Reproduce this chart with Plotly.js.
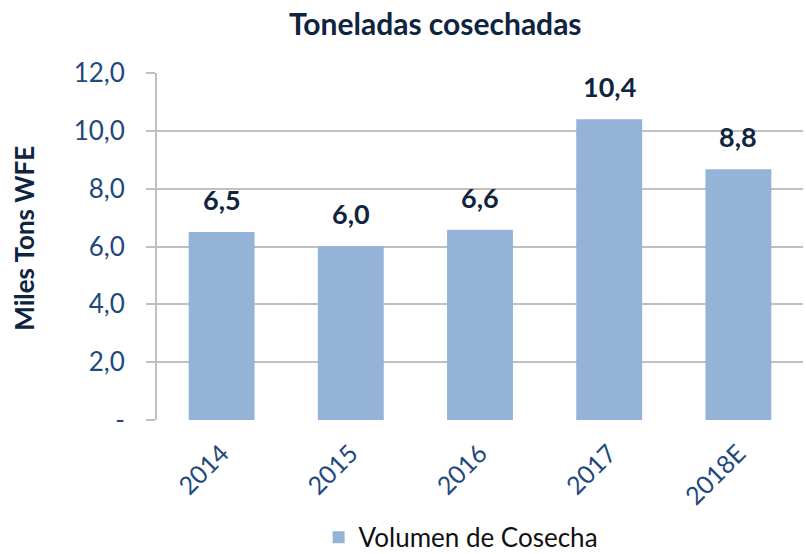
<!DOCTYPE html>
<html>
<head>
<meta charset="utf-8">
<script src="https://cdn.plot.ly/plotly-3.0.1.min.js"></script>
<style>html,body{margin:0;padding:0;background:#fff;}#chart{width:806px;height:554px;}</style>
</head>
<body>
<div id="chart"></div>
<script>
const years = ["2014", "2015", "2016", "2017", "2018E"];
const volumen = [6.5, 6.02, 6.58, 10.4, 8.67];
const labels = ["6,5", "6,0", "6,6", "10,4", "8,8"];
const yTickVals = [0, 2, 4, 6, 8, 10, 12];
const yTickText = ["-", "2,0", "4,0", "6,0", "8,0", "10,0", "12,0"];

const FONT = "Lato, 'Open Sans', sans-serif";
const NAVY = "#0F243E";
const AXBLUE = "#1F497D";

const trace = {
  type: "bar",
  x: years,
  y: volumen,
  name: "Volumen de Cosecha",
  marker: {color: "#95B3D7"},
  hoverinfo: "skip"
};

const annotations = years.map((c, i) => ({
  x: i, y: volumen[i], text: labels[i],
  xref: "x", yref: "y", showarrow: false,
  yanchor: "bottom", yshift: 14,
  font: {family: FONT, size: 27, color: NAVY, weight: "bold"}
}));
annotations.push({
  text: "<b>Miles Tons WFE</b>",
  xref: "paper", yref: "paper", x: -0.206, y: 0.525,
  xanchor: "center", yanchor: "middle", textangle: -90,
  showarrow: false,
  font: {family: FONT, size: 26, color: NAVY}
});

const layout = {
  width: 806, height: 554,
  margin: {l: 157, r: 3, t: 73, b: 134, autoexpand: false},
  paper_bgcolor: "#fff", plot_bgcolor: "#fff",
  font: {family: FONT},
  title: {
    text: "<b>Toneladas cosechadas</b>",
    x: 0.54, xref: "container", xanchor: "center",
    y: 0.955, yref: "container", yanchor: "middle",
    font: {family: FONT, size: 30, color: NAVY}
  },
  bargap: 0.49,
  showlegend: true,
  legend: {
    orientation: "h", x: 0.47, xanchor: "center",
    yref: "container", y: 0.03, yanchor: "middle",
    font: {family: FONT, size: 26, color: "#111"},
    itemwidth: 30
  },
  xaxis: {
    type: "category",
    range: [-0.5, 4.5],
    tickangle: -45,
    tickfont: {family: FONT, size: 25, color: AXBLUE},
    showline: false, ticks: "", showgrid: false,
    ticklabelstandoff: 13,
    automargin: false
  },
  yaxis: {
    range: [0, 12],
    tickvals: yTickVals, ticktext: yTickText,
    tickfont: {family: FONT, size: 26, color: AXBLUE},
    showgrid: true, gridcolor: "#C0C0C0", gridwidth: 2,
    ticks: "outside", ticklen: 9, tickcolor: "#C0C0C0", tickwidth: 2,
    showline: true, linecolor: "#C0C0C0", linewidth: 2,
    zeroline: false,
    ticklabelstandoff: 16,
    automargin: false
  },
  annotations: annotations
};

Plotly.newPlot("chart", [trace], layout, {displayModeBar: false, staticPlot: true});
</script>
</body>
</html>
